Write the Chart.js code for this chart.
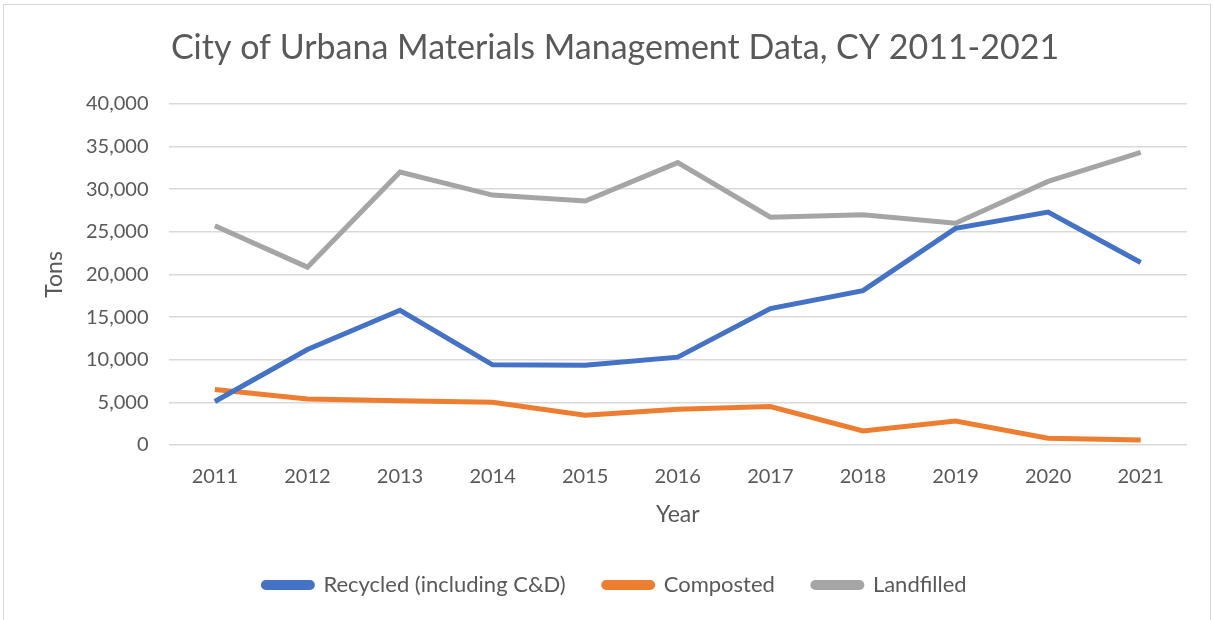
<!DOCTYPE html>
<html>
<head>
<meta charset="utf-8">
<script src="https://cdn.jsdelivr.net/npm/chart.js@4"></script>
<style>
  body { margin: 0; background: #fff; }
  #wrap { position: absolute; left: 0; top: 0; width: 1214px; height: 620px; }
  #frame { position: absolute; left: 3px; top: 4px; width: 1208px; height: 620px; border: 1px solid #d9d9d9; box-sizing: border-box; pointer-events: none; }
</style>
</head>
<body>
<div id="wrap">
  <canvas id="mm" width="1214" height="620"></canvas>
  <div id="frame"></div>
</div>
<script>
const years = ["2011", "2012", "2013", "2014", "2015", "2016", "2017", "2018", "2019", "2020", "2021"];
const recycled = [5100, 11200, 15800, 9400, 9350, 10300, 16000, 18100, 25400, 27300, 21400];
const composted = [6500, 5400, 5200, 5000, 3500, 4200, 4500, 1650, 2800, 800, 600];
const landfilled = [25700, 20850, 32000, 29300, 28600, 33100, 26700, 27000, 26000, 30900, 34300];

const txt = '#595959';
const fam = 'Lato, "Open Sans", sans-serif';

const ctx = document.getElementById('mm').getContext('2d');

const mmChart = new Chart(ctx, {
  type: 'line',
  data: {
    labels: years,
    datasets: [{
      label: "Recycled (including C&D)",
      data: recycled,
      borderColor: '#4472C4',
      backgroundColor: '#4472C4',
      borderWidth: 5,
      pointRadius: 0
    }, {
      label: "Composted",
      data: composted,
      borderColor: '#ED7D31',
      backgroundColor: '#ED7D31',
      borderWidth: 5,
      pointRadius: 0
    }, {
      label: "Landfilled",
      data: landfilled,
      borderColor: '#A5A5A5',
      backgroundColor: '#A5A5A5',
      borderWidth: 5,
      pointRadius: 0
    }],
  },
  options: {
    responsive: false,
    animation: false,
    layout: {
      padding: { top: 28, left: 43, right: 27, bottom: 14 }
    },
    scales: {
      x: {
        offset: true,
        grid: { display: false },
        border: { display: false },
        ticks: { color: txt, font: { family: fam, size: 20 }, padding: 12 },
        title: { display: true, text: 'Year', color: txt, font: { family: fam, size: 23, lineHeight: 1 }, padding: { top: 2, bottom: 10 } }
      },
      y: {
        min: 0,
        max: 40000,
        ticks: {
          stepSize: 5000,
          color: txt,
          font: { family: fam, size: 20 },
          padding: 20,
          callback: v => v.toLocaleString('en-US')
        },
        grid: { color: '#d9d9d9', lineWidth: 1.5, drawTicks: false },
        border: { display: false },
        title: { display: true, text: 'Tons', color: txt, font: { family: fam, size: 23, lineHeight: 1 }, padding: { top: 0, bottom: 0 } }
      }
    },
    plugins: {
      title: {
        display: true,
        text: 'City of Urbana Materials Management Data, CY 2011-2021',
        color: txt,
        font: { family: fam, size: 34, weight: 'normal' },
        padding: { top: 0, bottom: 35 }
      },
      legend: {
        position: 'bottom',
        labels: {
          boxWidth: 49,
          boxHeight: 5,
          useBorderRadius: true,
          borderRadius: 2.5,
          color: txt,
          font: { family: fam, size: 22 },
          padding: 38
        }
      },
      tooltip: { enabled: false }
    }
  }
});
</script>
</body>
</html>
